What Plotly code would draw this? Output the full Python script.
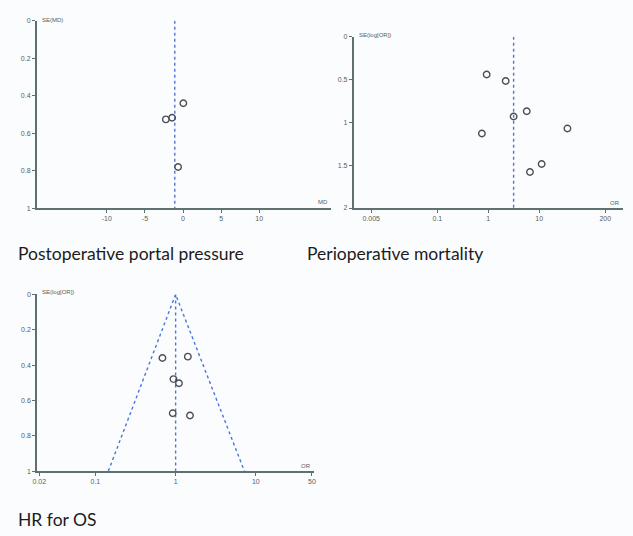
import plotly.graph_objects as go

# ---------------- data ----------------
# Panel 1: Postoperative portal pressure (MD vs SE(MD))
p1_md = [0.04, -2.25, -1.43, -0.65]
p1_se = [0.44, 0.526, 0.517, 0.78]
p1_pooled = -1.08
p1_xticks = [-10, -5, 0, 5, 10]
p1_yticks = [0, 0.2, 0.4, 0.6, 0.8, 1]
p1_ytext = ["0", "0.2", "0.4", "0.6", "0.8", "1"]

# Panel 2: Perioperative mortality (OR vs SE(log[OR]))
p2_or = [0.93, 2.2, 3.15, 5.7, 0.75, 36, 11.2, 6.6]
p2_se = [0.44, 0.515, 0.93, 0.87, 1.13, 1.07, 1.485, 1.58]
p2_pooled = 3.15
p2_xticks = [0.005, 0.1, 1, 10, 200]
p2_xtext = ["0.005", "0.1", "1", "10", "200"]
p2_yticks = [0, 0.5, 1, 1.5, 2]
p2_ytext = ["0", "0.5", "1", "1.5", "2"]

# Panel 3: HR for OS (OR vs SE(log[OR])) with funnel
p3_or = [0.685, 1.42, 0.94, 1.10, 0.92, 1.51]
p3_se = [0.36, 0.352, 0.479, 0.503, 0.672, 0.685]
p3_pooled = 1.0
p3_funnel_x = [0.145, 1.0, 7.2]
p3_funnel_y = [1, 0, 1]
p3_xticks = [0.02, 0.1, 1, 10, 50]
p3_xtext = ["0.02", "0.1", "1", "10", "50"]
p3_yticks = [0, 0.2, 0.4, 0.6, 0.8, 1]
p3_ytext = ["0", "0.2", "0.4", "0.6", "0.8", "1"]

titles = ["Postoperative portal pressure", "Perioperative mortality", "HR for OS"]

# ---------------- style ----------------
AX = "#5f7070"
BLUE = "#4a74e0"
MK = "#4a4f55"
W, H = 633, 536
BG = "#fbfcfe"

fig = go.Figure()

marker = dict(symbol="circle-open", size=6.5, color=MK, line=dict(width=1.4, color=MK))
dline = dict(color=BLUE, width=1.4, dash="dot")

# panel 1
fig.add_trace(go.Scatter(x=[p1_pooled, p1_pooled], y=[0, 1], mode="lines", line=dline,
                         xaxis="x", yaxis="y", hoverinfo="skip"))
fig.add_trace(go.Scatter(x=p1_md, y=p1_se, mode="markers", marker=marker, xaxis="x", yaxis="y"))

# panel 2
fig.add_trace(go.Scatter(x=[p2_pooled, p2_pooled], y=[0, 2], mode="lines", line=dline,
                         xaxis="x2", yaxis="y2", hoverinfo="skip"))
fig.add_trace(go.Scatter(x=p2_or, y=p2_se, mode="markers", marker=marker, xaxis="x2", yaxis="y2"))

# panel 3
fig.add_trace(go.Scatter(x=p3_funnel_x, y=p3_funnel_y, mode="lines", line=dline,
                         xaxis="x3", yaxis="y3", hoverinfo="skip"))
fig.add_trace(go.Scatter(x=[p3_pooled, p3_pooled], y=[0, 1], mode="lines", line=dline,
                         xaxis="x3", yaxis="y3", hoverinfo="skip"))
fig.add_trace(go.Scatter(x=p3_or, y=p3_se, mode="markers", marker=marker, xaxis="x3", yaxis="y3"))


def px_x(px):
    return px / W


def px_y(py):
    return (H - py) / H


tickfont = dict(family="Liberation Sans, Arial", size=7, color="#555f60")
common = dict(showline=True, linecolor=AX, linewidth=1.5, ticks="outside", ticklen=3,
              tickcolor=AX, tickwidth=1.2, showgrid=False, zeroline=False,
              tickfont=tickfont, fixedrange=True)

fig.update_layout(
    width=W, height=H, margin=dict(l=0, r=0, t=0, b=0),
    paper_bgcolor=BG, plot_bgcolor=BG, showlegend=False,
    xaxis=dict(domain=[px_x(33), px_x(330)], range=[-19.2, 19.4], anchor="y",
               tickmode="array", tickvals=p1_xticks, ticktext=[str(v) for v in p1_xticks], **common),
    yaxis=dict(domain=[px_y(207), px_y(17)], range=[1, 0], anchor="x",
               tickmode="array", tickvals=p1_yticks, ticktext=p1_ytext, **common),
    xaxis2=dict(domain=[px_x(353), px_x(625)], type="log", range=[-2.646, 2.65], anchor="y2",
                tickmode="array", tickvals=p2_xticks, ticktext=p2_xtext, **common),
    yaxis2=dict(domain=[px_y(206.7), px_y(33.3)], range=[2, 0], anchor="x2",
                tickmode="array", tickvals=p2_yticks, ticktext=p2_ytext, **common),
    xaxis3=dict(domain=[px_x(33.3), px_x(313)], type="log", range=[-1.728, 1.725], anchor="y3",
                tickmode="array", tickvals=p3_xticks, ticktext=p3_xtext, **common),
    yaxis3=dict(domain=[px_y(473.3), px_y(294.3)], range=[1, 0], anchor="x3",
                tickmode="array", tickvals=p3_yticks, ticktext=p3_ytext, **common),
)

small = dict(family="Liberation Sans, Arial", size=6, color="#555f60")
ann = [
    # axis labels
    dict(x=px_x(36), y=px_y(16), text="SE(MD)", xanchor="left", yanchor="middle"),
    dict(x=px_x(329), y=px_y(201), text="MD", xanchor="right", yanchor="middle"),
    dict(x=px_x(356), y=px_y(31), text="SE(log[OR])", xanchor="left", yanchor="middle"),
    dict(x=px_x(624), y=px_y(202), text="OR", xanchor="right", yanchor="middle"),
    dict(x=px_x(36), y=px_y(292), text="SE(log[OR])", xanchor="left", yanchor="middle"),
    dict(x=px_x(312), y=px_y(468), text="OR", xanchor="right", yanchor="middle"),
]
annotations = []
for a in ann:
    a.update(xref="paper", yref="paper", showarrow=False, font=small)
    annotations.append(a)

tfont = dict(family="Lato, Open Sans", size=17.5, color="#1c1c1c")
for t, x, y in [(titles[0], 12, 253), (titles[1], 304, 253), (titles[2], 12, 522)]:
    annotations.append(dict(x=px_x(x), y=px_y(y), text=t, xref="paper", yref="paper",
                            showarrow=False, xanchor="left", yanchor="middle", font=tfont))

fig.update_layout(annotations=annotations)

fig.write_html("out.html")
